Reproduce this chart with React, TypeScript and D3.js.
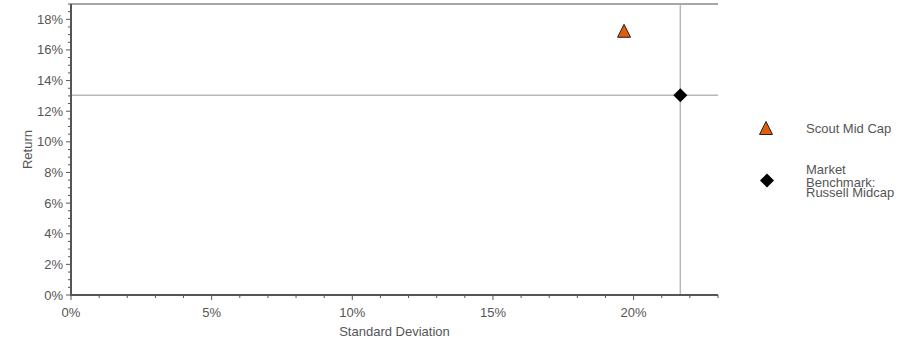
import React from "react";
import * as d3 from "d3";

const seriesNames = ["Scout Mid Cap", "Market Benchmark: Russell Midcap"];
const stdDev = [19.66, 21.66];
const returns = [17.25, 13.05];
const shapes = ["triangle", "diamond"];
const colors = ["#e35b0c", "#000000"];
const xTicks = [0, 5, 10, 15, 20];
const yTicks = [0, 2, 4, 6, 8, 10, 12, 14, 16, 18];

const W = 910, H = 341;
const margin = { left: 71, right: 192, top: 4, bottom: 46 };

const diamondPath = (r: number) => {
  const p = d3.path();
  p.moveTo(0, -r); p.lineTo(r, 0); p.lineTo(0, r); p.lineTo(-r, 0); p.closePath();
  return p.toString();
};
const trianglePath = (w: number, h: number) => {
  const p = d3.path();
  p.moveTo(0, -h / 2); p.lineTo(w / 2, h / 2); p.lineTo(-w / 2, h / 2); p.closePath();
  return p.toString();
};

export default function App() {
  const x = d3.scaleLinear().domain([0, 23]).range([margin.left, W - margin.right]);
  const y = d3.scaleLinear().domain([0, 19]).range([H - margin.bottom, margin.top]);
  const font = "'Liberation Sans', Arial, sans-serif";
  const textColor = "#555";
  const fs = 13;
  const xMinor = d3.range(0, 24, 1);
  const yMinor = d3.range(0, 19.01, 0.5);
  const sym = (s: string) => (s === "triangle" ? trianglePath(13, 13) : diamondPath(7));
  const refX = x(stdDev[1]);
  const refY = y(returns[1]);
  return (
    <svg width={W} height={H} style={{ position: "absolute", left: 0, top: 0, fontFamily: font }}>
      <rect width={W} height={H} fill="#fff" />
      <line x1={x(0)} x2={x(23)} y1={y(19)} y2={y(19)} stroke="#8a8a8a" strokeWidth={1.5} />
      <line x1={x(0)} x2={x(23)} y1={refY} y2={refY} stroke="#b8b8b8" strokeWidth={1.5} />
      <line x1={refX} x2={refX} y1={y(19)} y2={y(0)} stroke="#b8b8b8" strokeWidth={1.5} />
      {yMinor.map((v) => (
        <line key={"ym" + v} x1={x(0) - (v % 2 === 0 ? 5 : 3)} x2={x(0)} y1={y(v)} y2={y(v)} stroke="#555" strokeWidth={1} />
      ))}
      {yTicks.map((v) => (
        <text key={"yt" + v} x={x(0) - 8} y={y(v) + 4.5} textAnchor="end" fontSize={fs} fill={textColor}>{v}%</text>
      ))}
      {xMinor.map((v) => (
        <line key={"xm" + v} x1={x(v)} x2={x(v)} y1={y(0)} y2={y(0) + (v % 5 === 0 ? 5 : 3)} stroke="#555" strokeWidth={1} />
      ))}
      {xTicks.map((v) => (
        <text key={"xt" + v} x={x(v)} y={y(0) + 22} textAnchor="middle" fontSize={fs} fill={textColor}>{v}%</text>
      ))}
      <line x1={x(0)} x2={x(0)} y1={y(19)} y2={y(0) + 1} stroke="#555" strokeWidth={2} />
      <line x1={x(0) - 1} x2={x(23)} y1={y(0)} y2={y(0)} stroke="#555" strokeWidth={2} />
      <text x={(x(0) + x(23)) / 2} y={H - 5} textAnchor="middle" fontSize={fs} fill={textColor}>Standard Deviation</text>
      <text transform={`translate(32,${(y(0) + y(19)) / 2}) rotate(-90)`} textAnchor="middle" fontSize={fs} fill={textColor}>Return</text>
      {stdDev.map((v, i) => (
        <path key={"p" + i} transform={`translate(${x(v)},${y(returns[i])})`} d={sym(shapes[i])}
          fill={colors[i]} stroke="#222" strokeWidth={shapes[i] === "triangle" ? 1 : 0} />
      ))}
      <path transform="translate(766,128)" d={sym("triangle")} fill={colors[0]} stroke="#222" strokeWidth={1} />
      <text x={806} y={132.5} fontSize={fs} fill={textColor}>{seriesNames[0]}</text>
      <path transform="translate(767,180.5)" d={sym("diamond")} fill={colors[1]} />
      <text x={806} y={174} fontSize={fs} fill={textColor}>
        <tspan x={806}>Market</tspan>
        <tspan x={806} dy={12.5}>Benchmark:</tspan>
        <tspan x={806} dy={10.5}>Russell Midcap</tspan>
      </text>
    </svg>
  );
}
